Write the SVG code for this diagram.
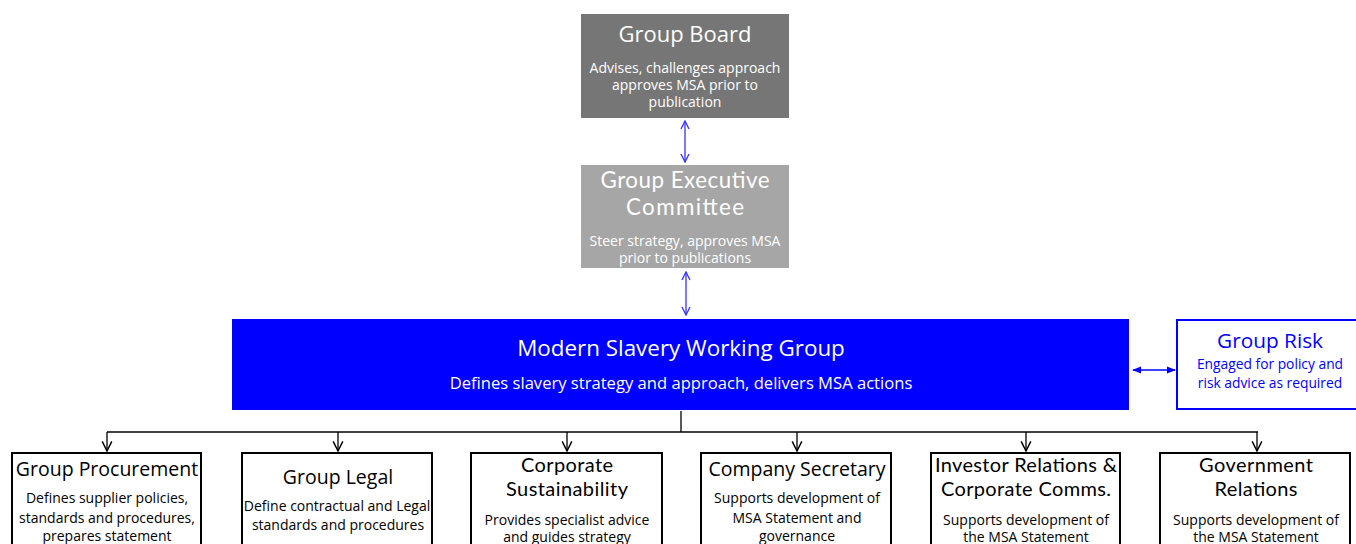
<svg xmlns="http://www.w3.org/2000/svg" width="1356" height="544" viewBox="0 0 1356 544">
<style>
text{font-family:"Open Sans","Liberation Sans",sans-serif;text-anchor:middle;dominant-baseline:central}
.w{fill:#fff}
.k{fill:#000}
.b{fill:#0000ff}
.t{font-size:22px}
.tb{font-size:19.5px}
.s{font-size:14px}
.l2{font-family:Lato,"Open Sans",sans-serif;font-weight:400}
.box{fill:#fff;stroke:#000;stroke-width:2}
.blu{stroke:#3333ff;stroke-width:1.3;fill:none}
.blk{stroke:#000;stroke-width:1.3;fill:none}
</style>
<defs>
<marker id="ob" viewBox="0 0 10 10" refX="9" refY="5" markerWidth="10" markerHeight="10" markerUnits="userSpaceOnUse" orient="auto-start-reverse"><path d="M1,1 L9,5 L1,9" fill="none" stroke="#3333ff" stroke-width="1.3"/></marker>
<marker id="fb" viewBox="0 0 10 10" refX="9" refY="5" markerWidth="9" markerHeight="9" markerUnits="userSpaceOnUse" orient="auto-start-reverse"><path d="M0,1 L10,5 L0,9 Z" fill="#0000ff"/></marker>
<marker id="ok" viewBox="0 0 10 10" refX="9" refY="5" markerWidth="12" markerHeight="12" markerUnits="userSpaceOnUse" orient="auto"><path d="M1,1 L9,5 L1,9" fill="none" stroke="#000" stroke-width="1.2"/></marker>
</defs>
<rect width="1356" height="544" fill="#fff"/>
<g id="connectors">
<line class="blu" x1="685" y1="121" x2="685" y2="162" marker-start="url(#ob)" marker-end="url(#ob)"/>
<line class="blu" x1="686" y1="272" x2="686" y2="315" marker-start="url(#ob)" marker-end="url(#ob)"/>
<line x1="1133" y1="370" x2="1175" y2="370" stroke="#0000ff" stroke-width="1.5" marker-start="url(#fb)" marker-end="url(#fb)"/>
<line class="blk" x1="681" y1="411" x2="681" y2="432" stroke-width="2"/>
<line class="blk" x1="107" y1="432" x2="1258" y2="432"/>
<line class="blk" x1="107" y1="432" x2="107" y2="451" marker-end="url(#ok)"/>
<line class="blk" x1="338" y1="432" x2="338" y2="451" marker-end="url(#ok)"/>
<line class="blk" x1="567" y1="432" x2="567" y2="451" marker-end="url(#ok)"/>
<line class="blk" x1="797" y1="432" x2="797" y2="451" marker-end="url(#ok)"/>
<line class="blk" x1="1026" y1="432" x2="1026" y2="451" marker-end="url(#ok)"/>
<line class="blk" x1="1257" y1="432" x2="1257" y2="451" marker-end="url(#ok)"/>
</g>
<g id="group-board">
<rect x="581" y="14" width="208" height="104" fill="#767676"/>
<text class="w t" x="685" y="33">Group Board</text>
<text class="w s" x="685" y="67">Advises, challenges approach</text>
<text class="w s" x="685" y="84">approves MSA prior to</text>
<text class="w s" x="685" y="101">publication</text>
</g>
<g id="group-exec">
<rect x="581" y="165" width="208" height="103" fill="#a6a6a6"/>
<text class="w l2" x="685" y="179" font-size="22.4"><tspan x="685" textLength="169" lengthAdjust="spacing">Group Executive</tspan><tspan x="685" dy="27" textLength="118" lengthAdjust="spacing">Committee</tspan></text>
<text class="w s" x="685" y="240">Steer strategy, approves MSA</text>
<text class="w s" x="685" y="257">prior to publications</text>
</g>
<g id="mswg">
<rect x="232" y="319" width="897" height="91" fill="#0000ff"/>
<text class="w" x="681" y="347" font-size="22.4">Modern Slavery Working Group</text>
<text class="w" x="681" y="382" font-size="16.6">Defines slavery strategy and approach, delivers MSA actions</text>
</g>
<g id="group-risk">
<rect x="1177" y="320" width="182" height="89" fill="#fff" stroke="#0000ff" stroke-width="2"/>
<text class="b" x="1270" y="340" font-size="20.8">Group Risk</text>
<text class="b" x="1270" y="363" font-size="13.8">Engaged for policy and</text>
<text class="b" x="1270" y="382" font-size="13.8">risk advice as required</text>
</g>
<g id="group-procurement">
<rect class="box" x="12" y="453" width="189" height="100"/>
<text class="k tb" x="107" y="468">Group Procurement</text>
<text class="k s" x="107" y="497">Defines supplier policies,</text>
<text class="k s" x="107" y="517">standards and procedures,</text>
<text class="k s" x="107" y="535">prepares statement</text>
</g>
<g id="group-legal">
<rect class="box" x="242" y="453" width="190" height="100"/>
<text class="k tb" x="338" y="476">Group Legal</text>
<text class="k s" x="337" y="505">Define contractual and Legal</text>
<text class="k s" x="338" y="524">standards and procedures</text>
</g>
<g id="corporate-sustainability">
<rect class="box" x="471" y="453" width="191" height="100"/>
<text class="k l2" x="567" y="464" font-size="20"><tspan x="567" textLength="92" lengthAdjust="spacing">Corporate</tspan><tspan x="567" dy="24" textLength="122" lengthAdjust="spacing">Sustainability</tspan></text>
<text class="k s" x="567" y="519">Provides specialist advice</text>
<text class="k s" x="567" y="536">and guides strategy</text>
</g>
<g id="company-secretary">
<rect class="box" x="701" y="453" width="190" height="100"/>
<text class="k tb" x="797" y="468">Company Secretary</text>
<text class="k s" x="797" y="497">Supports development of</text>
<text class="k s" x="797" y="517">MSA Statement and</text>
<text class="k s" x="797" y="535">governance</text>
</g>
<g id="investor-relations">
<rect class="box" x="931" y="453" width="189" height="100"/>
<text class="k l2" x="1026" y="464" font-size="20"><tspan x="1026" textLength="182" lengthAdjust="spacing">Investor Relations &amp;</tspan><tspan x="1026" dy="24" textLength="170" lengthAdjust="spacing">Corporate Comms.</tspan></text>
<text class="k s" x="1026" y="519">Supports development of</text>
<text class="k s" x="1026" y="536">the MSA Statement</text>
</g>
<g id="government-relations">
<rect class="box" x="1160" y="453" width="190" height="100"/>
<text class="k l2" x="1256" y="464" font-size="20"><tspan x="1256" textLength="114" lengthAdjust="spacing">Government</tspan><tspan x="1256" dy="24" textLength="83" lengthAdjust="spacing">Relations</tspan></text>
<text class="k s" x="1256" y="519">Supports development of</text>
<text class="k s" x="1256" y="536">the MSA Statement</text>
</g>
</svg>
